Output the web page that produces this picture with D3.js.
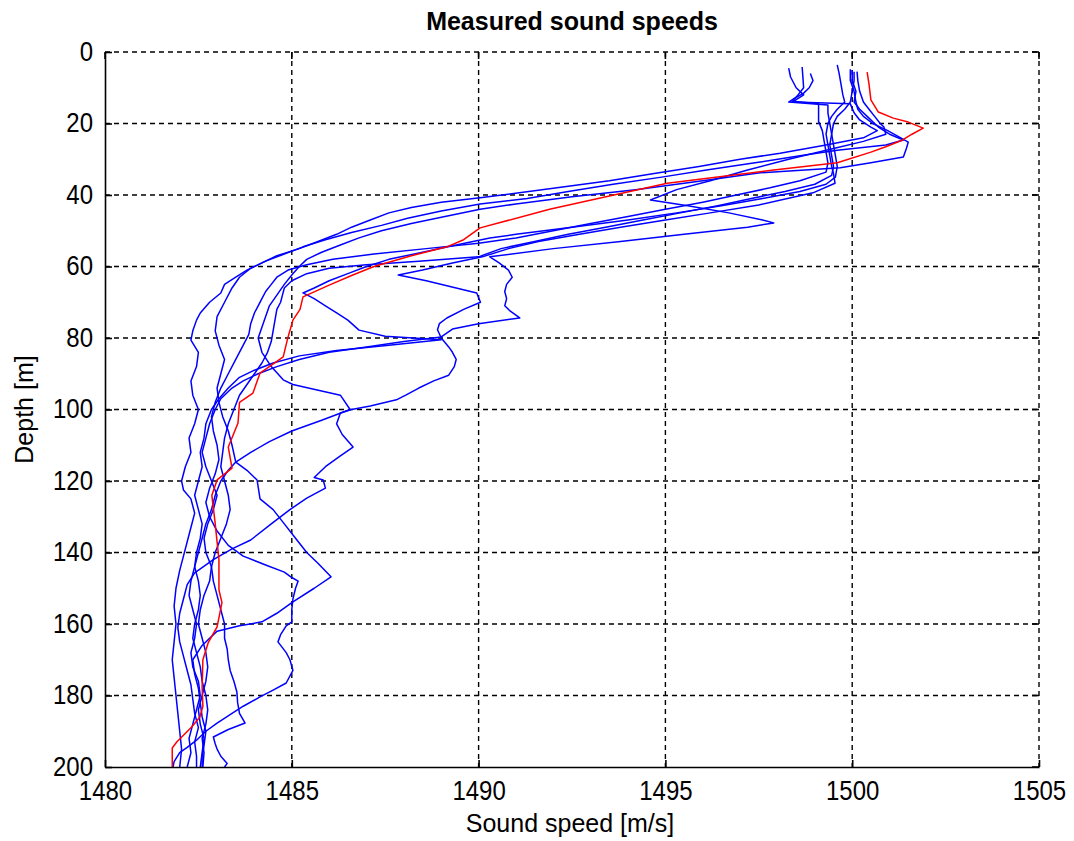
<!DOCTYPE html>
<html>
<head>
<meta charset="utf-8">
<script src="https://cdn.jsdelivr.net/npm/d3@7"></script>
<style>
  html, body { margin: 0; padding: 0; background: #fff; }
  svg { display: block; }
  text { font-family: "Liberation Sans", Arial, Helvetica, sans-serif; fill: #000; }
</style>
</head>
<body>
<svg id="chart" width="1074" height="841"></svg>
<script>
// Axis ticks
const speedTicks = [1480, 1485, 1490, 1495, 1500, 1505];
const depthTicks = [0, 20, 40, 60, 80, 100, 120, 140, 160, 180, 200];

// Individual CTD casts: [depth (m), sound speed (m/s)]
const castA = [[4.5,1498.3],[7,1498.35],[10,1498.5],[12,1498.7],[14,1498.4],[14.5,1499.95],[17,1500.05],[19,1500.2],[21,1500.5],[22,1500.67],[24,1500.3],[26,1499.3],[28.3,1498.07],[30,1497.0],[32,1495.9],[34,1494.7],[36,1493.5],[38,1492.1],[40.8,1490.04],[42,1489.0],[43.5,1488.2],[45,1487.6],[47,1487.1],[49,1486.6],[51,1486.2],[53,1485.7],[55,1485.2],[57,1484.6],[59,1484.2],[61,1483.8],[63,1483.5],[65,1483.2],[67.4,1483.1],[70,1482.8],[73,1482.55],[75,1482.45],[78,1482.35],[80.6,1482.3],[84,1482.5],[88,1482.45],[92,1482.3],[96,1482.35],[100,1482.5],[104,1482.4],[108,1482.25],[112,1482.3],[116,1482.15],[120,1482.05],[122.5,1482.1],[125,1482.3],[129,1482.4],[133,1482.3],[137,1482.2],[141,1482.1],[145,1482.0],[150,1481.9],[155,1481.85],[160,1481.9],[165,1481.85],[170,1481.8],[175,1481.85],[180,1481.9],[185,1481.95],[190,1482.0],[195,1482.05],[200,1482.0]];

const castB = [[4.8,1499.95],[8,1499.95],[11,1500.05],[14,1500.1],[16,1500.15],[18,1500.3],[20,1500.55],[22,1500.95],[24,1501.3],[25.2,1501.5],[27,1501.45],[29.4,1501.37],[31,1500.5],[32.4,1499.68],[33.8,1497.54],[36,1496.0],[38.5,1494.2],[40.5,1492.5],[42.5,1491.0],[44,1490.04],[46,1489.1],[48,1488.2],[50,1487.4],[52,1486.8],[54,1486.3],[56,1485.8],[58,1485.4],[60,1485.2],[62.4,1485.0],[65,1484.8],[68,1484.6],[71,1484.4],[74,1484.3],[77,1484.2],[80,1484.1],[84,1484.2],[88,1484.45],[91.7,1484.77],[93,1485.03],[96,1486.3],[100,1486.56],[103,1485.8],[106,1485.0],[109,1484.4],[112,1483.9],[114.7,1483.5],[117,1483.3],[120,1483.1],[124,1482.95],[128,1482.85],[132,1482.7],[136,1482.6],[140,1482.5],[144,1482.4],[148,1482.3],[152,1482.25],[156,1482.35],[160,1482.45],[164,1482.4],[168,1482.3],[172,1482.35],[176,1482.5],[180,1482.55],[184,1482.45],[188,1482.35],[192,1482.25],[196,1482.3],[200,1482.2]];

const castC = [[5.5,1500.13],[8,1500.15],[11,1500.2],[14,1500.3],[16,1500.45],[18,1500.6],[20,1500.75],[21,1500.85],[23,1500.9],[25,1500.3],[27,1499.5],[30,1498.3],[33,1497.2],[36,1496.2],[38.5,1495.3],[41.4,1494.6],[43,1495.6],[45,1496.7],[47,1497.6],[47.8,1497.9],[49,1497.2],[51,1495.5],[53,1493.8],[55,1492.0],[57.3,1490.3],[59,1490.55],[61,1490.8],[63,1490.9],[65,1490.75],[67,1490.7],[69,1490.75],[71,1490.7],[72.5,1490.85],[74.4,1491.1],[76,1490.0],[77.5,1489.3],[79.7,1489.0],[81,1488.0],[82.5,1487.0],[84,1486.0],[86,1485.2],[88,1484.6],[90,1484.1],[92,1483.7],[94,1483.4],[97,1483.1],[100,1482.95],[104,1482.8],[108,1482.7],[112,1482.6],[116,1482.7],[120,1482.85],[124,1483.0],[128,1482.9],[132,1482.75],[136,1482.65],[140,1482.7],[144,1482.85],[148,1482.8],[152,1482.65],[156,1482.55],[160,1482.5],[164,1482.6],[168,1482.7],[172,1482.75],[176,1482.7],[180,1482.6],[184,1482.5],[188,1482.55],[192,1482.65],[196,1482.6],[200,1482.55]];

const castD = [[5,1500.0],[8,1500.0],[11,1500.1],[14,1500.05],[16,1500.2],[18,1500.4],[20,1500.6],[21,1500.7],[23,1501.0],[24.6,1501.37],[26,1500.9],[27.5,1499.6],[29,1498.6],[31,1497.4],[33,1496.1],[35,1494.9],[37,1493.6],[39,1492.4],[41,1491.3],[42.5,1490.04],[44.5,1489.0],[46.5,1488.1],[48.5,1487.4],[50.5,1486.6],[52.5,1485.9],[54.5,1485.3],[56.5,1484.8],[58.5,1484.3],[60.5,1483.9],[63,1483.6],[66,1483.4],[70,1483.2],[74,1483.0],[78,1482.95],[82,1483.05],[86,1483.2],[90,1483.1],[94,1483.0],[98,1483.05],[102,1483.15],[106,1483.3],[110,1483.4],[114.7,1483.5],[117,1483.8],[119.7,1484.07],[125,1484.15],[128,1484.5],[132,1484.8],[136,1485.1],[140,1485.4],[143,1485.7],[146.8,1486.05],[150,1485.6],[153.8,1485.03],[157,1484.6],[159.4,1484.2],[160.5,1483.6],[162,1483.0],[166,1482.6],[170,1482.35],[174,1482.4],[178,1482.5],[182,1482.55],[186,1482.6],[190,1482.7],[194,1482.65],[197,1482.6],[200,1482.6]];

const castE = [[3.6,1499.6],[6,1499.65],[9,1499.7],[12,1499.75],[14,1499.8],[16,1499.6],[18,1499.45],[20,1499.35],[23,1499.3],[26,1499.35],[29,1499.4],[32,1499.45],[34,1499.5],[36.7,1499.54],[39.4,1498.95],[42.8,1497.5],[45,1496.2],[47,1495.0],[49,1493.8],[51,1492.7],[53,1491.6],[55,1490.8],[57.3,1490.1],[59,1489.3],[61,1488.5],[62.4,1487.85],[64,1488.6],[66,1489.4],[67.4,1489.95],[70,1490.05],[72,1489.6],[74.4,1489.15],[76,1488.95],[77.7,1488.9],[80,1489.0],[82.5,1489.2],[84,1489.3],[86,1489.4],[88,1489.35],[90.4,1489.2],[92,1488.8],[94,1488.4],[96,1488.05],[97.3,1487.8],[99,1487.1],[100,1486.6],[101,1486.3],[104,1486.2],[107,1486.35],[110.5,1486.64],[113,1486.3],[116,1485.9],[119,1485.6],[119.7,1485.84],[122,1485.9],[124.8,1485.4],[128,1484.95],[132,1484.45],[136.5,1483.9],[139,1483.4],[142,1482.9],[145.7,1482.4],[149,1482.2],[153,1482.1],[157,1482.0],[161,1481.95],[165,1482.0],[169,1482.1],[173,1482.2],[177,1482.3],[181,1482.35],[185,1482.4],[189,1482.5],[193,1482.4],[197,1482.45],[200,1482.45]];

const castF = [[4.2,1498.66],[7,1498.68],[10,1498.7],[12,1498.55],[13.8,1498.4],[14.5,1499.1],[17,1499.1],[19.4,1499.1],[22,1499.2],[25,1499.25],[28,1499.3],[31,1499.35],[33.6,1499.3],[36,1498.6],[38,1497.8],[40,1496.9],[42,1496.0],[44,1495.0],[46,1494.0],[48,1493.0],[50,1492.0],[52,1491.0],[53.5,1490.0],[55,1488.6],[56.5,1487.2],[58,1486.1],[59.5,1485.4],[61,1484.9],[63,1484.6],[65,1484.45],[67,1484.3],[69,1484.2],[71,1484.1],[73,1484.0],[76,1483.9],[79,1483.85],[82,1483.7],[86,1483.5],[90,1483.3],[94,1483.1],[98,1482.95],[102,1482.85],[106,1482.9],[110,1483.0],[114,1483.05],[118,1482.95],[122,1482.8],[126,1482.7],[130,1482.8],[134,1483.0],[138,1483.3],[141,1483.7],[143.5,1484.3],[145.5,1484.8],[147,1485.0],[148,1485.17],[150,1485.1],[153,1485.03],[156,1485.0],[159.4,1485.0],[160.5,1484.85],[163,1484.7],[165,1484.63],[168,1484.85],[170,1484.95],[173,1485.03],[176.5,1484.85],[178.5,1484.5],[180.4,1484.15],[183,1483.7],[185,1483.4],[187.7,1483.0],[190,1482.7],[192.5,1482.45],[194.5,1482.2],[196,1482.0],[198.5,1481.85],[200,1481.82]];

const castG = [[6,1498.88],[8,1498.95],[10,1498.85],[11.5,1498.7],[13,1498.45],[14,1498.3],[14.8,1499.35],[17,1499.35],[20,1499.4],[23,1499.45],[26,1499.4],[29,1499.45],[32,1499.5],[34.5,1499.45],[37,1499.0],[39,1498.2],[41,1497.3],[43,1496.4],[45,1495.4],[47,1494.4],[49,1493.4],[51,1492.4],[53,1491.5],[55,1490.6],[57.3,1490.0],[58.5,1488.4],[59.5,1487.0],[60.5,1486.0],[62,1485.4],[64,1485.0],[66,1484.8],[68,1484.75],[70,1484.7],[72,1484.6],[75,1484.55],[78,1484.5],[81,1484.45],[84,1484.35],[87,1484.2],[90,1484.0],[93,1483.8],[96,1483.6],[100,1483.45],[104,1483.3],[108,1483.2],[112,1483.15],[116,1483.1],[120,1483.2],[124,1483.3],[128,1483.35],[132,1483.25],[136,1483.1],[140,1482.95],[144,1482.85],[148,1482.9],[152,1483.0],[156,1483.1],[160,1483.2],[164,1483.2],[167,1483.27],[170,1483.3],[173,1483.35],[176,1483.45],[179,1483.53],[182,1483.55],[185,1483.6],[187.7,1483.75],[189.5,1483.3],[191.6,1482.9],[193.5,1482.95],[195,1483.0],[197,1483.1],[199,1483.27],[200,1483.2]];

const castH = [[5.5,1500.05],[8,1500.05],[11,1500.0],[14,1499.95],[16,1499.8],[18,1499.6],[20,1499.5],[23,1499.45],[26,1499.5],[29,1499.55],[32,1499.6],[35,1499.55],[37,1499.3],[39,1498.6],[41,1497.6],[43,1496.5],[45,1495.3],[47,1494.0],[49,1492.5],[51,1491.0],[52,1490.3],[54,1489.4],[56,1488.5],[58,1487.6],[60,1487.0],[62,1486.5],[64,1486.0],[66,1485.6],[67.4,1485.3],[69,1485.6],[71,1485.9],[73,1486.2],[75,1486.5],[77.8,1486.8],[79.5,1487.5],[80.5,1489.0],[82,1487.6],[83.5,1486.2],[85,1485.2],[87,1484.5],[89,1484.0],[91,1483.6],[94,1483.3],[97,1483.05],[100,1482.85],[104,1482.7],[108,1482.65],[112,1482.55],[116,1482.6],[120,1482.5],[124,1482.4],[128,1482.5],[132,1482.6],[136,1482.55],[140,1482.45],[144,1482.4],[148,1482.5],[152,1482.55],[156,1482.5],[160,1482.4],[164,1482.35],[168,1482.45],[172,1482.55],[176,1482.6],[180,1482.7],[184,1482.75],[188,1482.7],[192,1482.6],[196,1482.65],[200,1482.62]];

// Mean profile
const meanProfile = [[5.6,1500.4],[9,1500.45],[13.4,1500.5],[16.8,1500.7],[18.5,1501.1],[19.6,1501.5],[21.3,1501.9],[23,1501.6],[24.6,1501.35],[26.5,1500.9],[28,1500.5],[31,1499.6],[33,1497.9],[36.7,1495.05],[40.3,1493.5],[44,1491.9],[49.2,1490.04],[52.5,1489.6],[54.5,1489.15],[57,1488.2],[60,1487.2],[62.5,1486.6],[65.2,1486.0],[68.5,1485.3],[72,1485.22],[75,1485.03],[79.7,1484.9],[85.3,1484.77],[89.8,1484.15],[95.4,1483.96],[98,1483.6],[103.8,1483.56],[110.5,1483.3],[116.4,1483.4],[119.7,1483.0],[124,1482.86],[131,1482.94],[142,1483.05],[150.5,1483.05],[154,1483.13],[160.8,1483.0],[165.3,1482.76],[170,1482.62],[177.6,1482.6],[183,1482.62],[186,1482.54],[188.8,1482.32],[193,1481.92],[194.7,1481.8],[200,1481.8]];

const casts = [castA, castB, castC, castD, castE, castF, castG, castH];

const svg = d3.select("#chart");
const m = { left: 105, right: 1039, top: 52, bottom: 767 };

const x = d3.scaleLinear().domain([1480, 1505]).range([m.left, m.right]);
const y = d3.scaleLinear().domain([0, 200]).range([m.top, m.bottom]);

// Dashed grid
const grid = svg.append("g").attr("stroke", "#000").attr("stroke-width", 1.4)
  .attr("stroke-dasharray", "5,4").attr("fill", "none");
grid.selectAll("line.v").data(speedTicks.filter(d => d !== 1480)).join("line")
  .attr("class", "v").attr("x1", d => x(d)).attr("x2", d => x(d))
  .attr("y1", m.top).attr("y2", m.bottom);
grid.selectAll("line.h").data(depthTicks.filter(d => d !== 200)).join("line")
  .attr("class", "h").attr("y1", d => y(d)).attr("y2", d => y(d))
  .attr("x1", m.left).attr("x2", m.right);

// Profiles
const line = d3.line().x(d => x(d[1])).y(d => y(d[0]));
const plot = svg.append("g").attr("fill", "none").attr("stroke-linejoin", "round");
plot.selectAll("path.cast").data(casts).join("path")
  .attr("class", "cast").attr("d", line)
  .attr("stroke", "#0000ff").attr("stroke-width", 1.5);
plot.append("path").datum(meanProfile).attr("d", line)
  .attr("stroke", "#ff0000").attr("stroke-width", 1.5);

// Axes with inward ticks
const xAxis = d3.axisBottom(x).tickValues(speedTicks).tickSizeInner(-7).tickSizeOuter(0).tickFormat(d3.format("d"));
const yAxis = d3.axisLeft(y).tickValues(depthTicks).tickSizeInner(-7).tickSizeOuter(0).tickFormat(d3.format("d"));
const gx = svg.append("g").attr("transform", `translate(0,${m.bottom})`).call(xAxis);
const gy = svg.append("g").attr("transform", `translate(${m.left},0)`).call(yAxis);
[gx, gy].forEach(g => {
  g.select(".domain").attr("stroke", "#000").attr("stroke-width", 1.6);
  g.selectAll(".tick line").attr("stroke", "#000").attr("stroke-width", 1.6);
  g.selectAll(".tick text").attr("font-size", 24).attr("fill", "#000")
    .attr("font-family", "'Liberation Sans', Arial, sans-serif");
});
gx.selectAll(".tick text").attr("dy", null).attr("y", 0)
  .attr("transform", "translate(0,33) scale(1,1.15)");
gy.selectAll(".tick text").attr("dy", null).attr("x", 0)
  .attr("transform", "translate(-12,8) scale(1,1.15)");

// Top and right inward ticks
const tk = svg.append("g").attr("stroke", "#000").attr("stroke-width", 1.6);
tk.selectAll("line.t").data(speedTicks).join("line").attr("class", "t")
  .attr("x1", d => x(d)).attr("x2", d => x(d)).attr("y1", m.top).attr("y2", m.top + 7);
tk.selectAll("line.r").data(depthTicks).join("line").attr("class", "r")
  .attr("x1", m.right).attr("x2", m.right - 7).attr("y1", d => y(d)).attr("y2", d => y(d));

// Titles
svg.append("text").attr("x", (m.left + m.right) / 2).attr("y", 30)
  .attr("text-anchor", "middle").attr("font-size", 25).attr("font-weight", "bold")
  .text("Measured sound speeds");
svg.append("text").attr("x", 570).attr("y", 832)
  .attr("text-anchor", "middle").attr("font-size", 25)
  .text("Sound speed [m/s]");
svg.append("text").attr("transform", `translate(33,${(m.top + m.bottom) / 2}) rotate(-90)`)
  .attr("text-anchor", "middle").attr("font-size", 25)
  .text("Depth [m]");
</script>
</body>
</html>
